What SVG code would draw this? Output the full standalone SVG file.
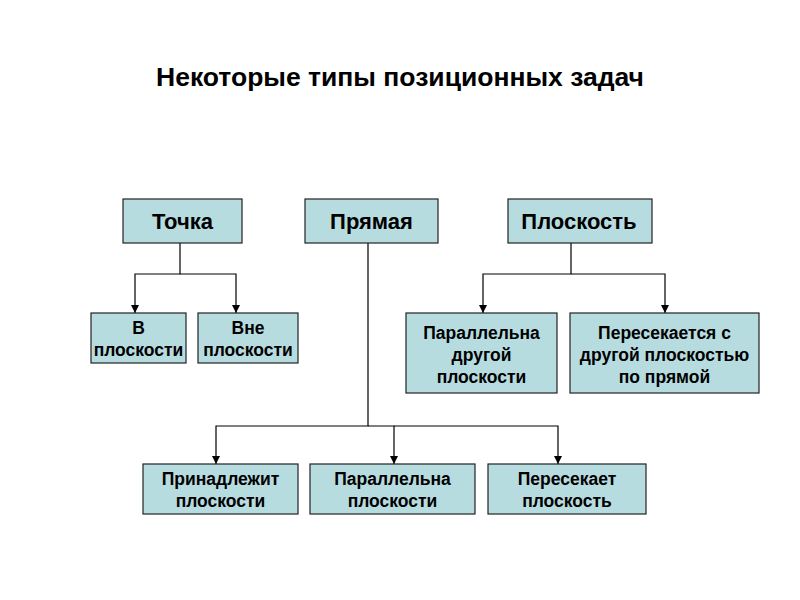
<svg xmlns="http://www.w3.org/2000/svg" width="800" height="600" viewBox="0 0 800 600">
<style>
.box{fill:#B7DCE0;stroke:#222;stroke-width:1.2}
.t{font-family:"Liberation Sans",Arial,sans-serif;font-weight:bold;fill:#000;text-anchor:middle}
.big{font-size:22px}
.sm{font-size:17.5px}
.c{fill:none;stroke:#000;stroke-width:1.2}
</style>
<defs>
<marker id="ah" viewBox="0 0 10 10" refX="10" refY="5" markerWidth="8" markerHeight="8" orient="auto" markerUnits="userSpaceOnUse">
<path d="M0,0 L10,5 L0,10 z" fill="#000"/>
</marker>
</defs>
<rect width="800" height="600" fill="#fff"/>
<text class="t" x="400" y="86" font-size="26.5">Некоторые типы позиционных задач</text>
<g id="connectors">
<path class="c" d="M180,243 V274 H135 V313" marker-end="url(#ah)"/>
<path class="c" d="M180,274 H236 V313" marker-end="url(#ah)"/>
<path class="c" d="M571,243 V274 H483 V313" marker-end="url(#ah)"/>
<path class="c" d="M571,274 H665 V313" marker-end="url(#ah)"/>
<path class="c" d="M368,243 V426 H216 V464" marker-end="url(#ah)"/>
<path class="c" d="M368,426 H394 V464" marker-end="url(#ah)"/>
<path class="c" d="M394,426 H558 V464" marker-end="url(#ah)"/>
</g>
<g id="tochka"><rect class="box" x="123" y="199" width="119" height="44"/><text class="t big" x="182.5" y="229">Точка</text></g>
<g id="pryamaya"><rect class="box" x="305" y="199" width="133" height="44"/><text class="t big" x="371.5" y="229">Прямая</text></g>
<g id="ploskost"><rect class="box" x="508" y="199" width="144" height="44"/><text class="t big" x="579" y="229">Плоскость</text></g>
<g id="v-ploskosti"><rect class="box" x="91" y="313" width="95" height="50"/><text class="t sm" x="138.5" y="334">В</text><text class="t sm" x="138.5" y="356">плоскости</text></g>
<g id="vne-ploskosti"><rect class="box" x="198" y="313" width="100" height="50"/><text class="t sm" x="248" y="334">Вне</text><text class="t sm" x="248" y="356">плоскости</text></g>
<g id="parall-drugoy"><rect class="box" x="406" y="313" width="151" height="80"/><text class="t sm" x="481.5" y="339">Параллельна</text><text class="t sm" x="481.5" y="361">другой</text><text class="t sm" x="481.5" y="383">плоскости</text></g>
<g id="peresekaetsya"><rect class="box" x="570" y="313" width="189" height="80"/><text class="t sm" x="664.5" y="339">Пересекается с</text><text class="t sm" x="664.5" y="361">другой плоскостью</text><text class="t sm" x="664.5" y="383">по прямой</text></g>
<g id="prinadlezhit"><rect class="box" x="143" y="464" width="155" height="50"/><text class="t sm" x="220.5" y="485">Принадлежит</text><text class="t sm" x="220.5" y="507">плоскости</text></g>
<g id="parall-ploskosti"><rect class="box" x="310" y="464" width="165" height="50"/><text class="t sm" x="392.5" y="485">Параллельна</text><text class="t sm" x="392.5" y="507">плоскости</text></g>
<g id="peresekaet"><rect class="box" x="488" y="464" width="158" height="50"/><text class="t sm" x="567" y="485">Пересекает</text><text class="t sm" x="567" y="507">плоскость</text></g>
</svg>
